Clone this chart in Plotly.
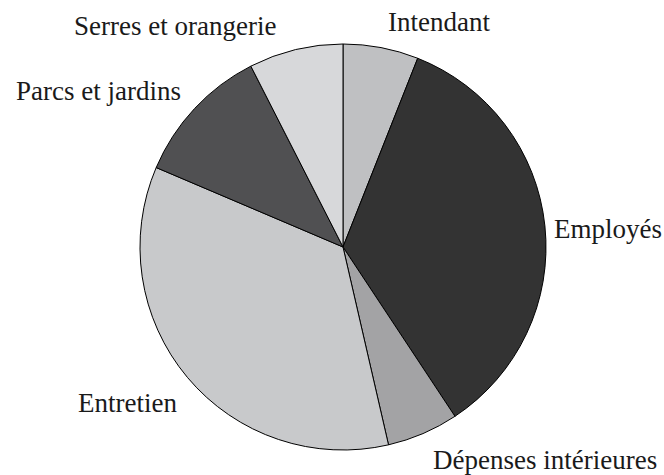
import plotly.graph_objects as go

# slice shares (percent), clockwise from 12 o'clock
labels = ["Intendant", "Employés", "Dépenses intérieures", "Entretien",
          "Parcs et jardins", "Serres et orangerie"]
values = [6.0, 34.7, 5.7, 35.0, 11.1, 7.5]
colors = ["#bfc0c2", "#333333", "#a3a3a5", "#c8c9cb", "#505052", "#d7d8da"]

# label anchor points (pixels in the 664x475 frame)
label_pos = {
    "Intendant": (439, 22),
    "Employés": (608, 229),
    "Dépenses intérieures": (545, 460),
    "Entretien": (127, 403),
    "Parcs et jardins": (98, 91),
    "Serres et orangerie": (175, 26),
}

W, H = 664, 475
cx, cy, r = 343, 247, 203

fig = go.Figure()
fig.add_trace(go.Pie(
    labels=labels,
    values=values,
    sort=False,
    direction="clockwise",
    rotation=0,
    marker=dict(colors=colors, line=dict(color="#000000", width=1)),
    textinfo="none",
    hoverinfo="label+percent",
    showlegend=False,
    domain=dict(x=[(cx - r) / W, (cx + r) / W],
                y=[(H - cy - r) / H, (H - cy + r) / H]),
))

for name in labels:
    px, py = label_pos[name]
    fig.add_annotation(
        x=px / W, y=1 - py / H, xref="paper", yref="paper",
        text=name, showarrow=False, xanchor="center", yanchor="middle",
        font=dict(family="Liberation Serif", size=27, color="#1a1a1a"),
    )

fig.update_layout(
    width=W, height=H,
    margin=dict(l=0, r=0, t=0, b=0),
    paper_bgcolor="white",
    plot_bgcolor="white",
)

# drop the default page margin so the figure sits at the window's corner
fig.write_html(
    "out.html",
    config={"displayModeBar": False},
    post_script="document.body.style.margin='0';document.body.style.overflow='hidden';",
)
